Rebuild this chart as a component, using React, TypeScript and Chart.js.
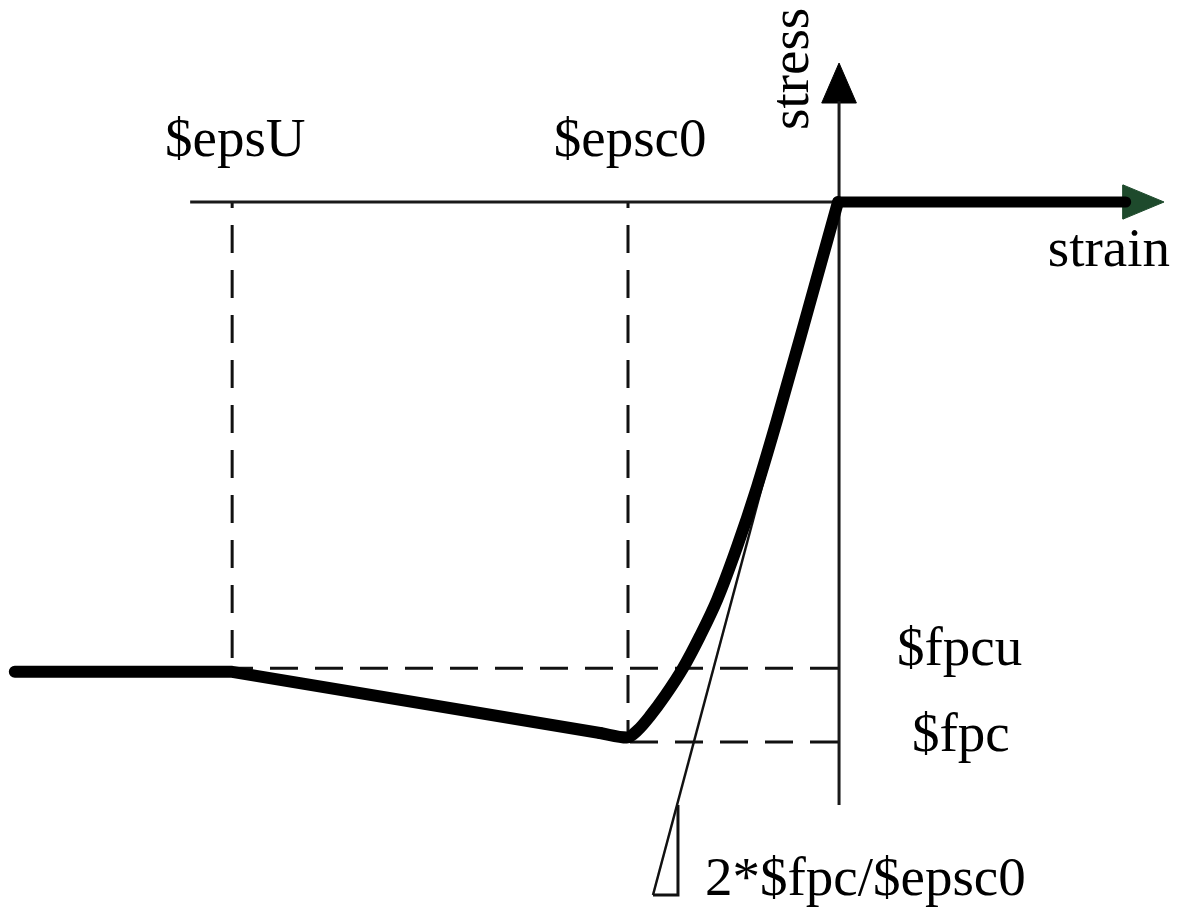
import React, { useEffect, useRef } from "react";
import { Chart, registerables } from "chart.js";

Chart.register(...registerables);

// Units: strain in 1e-3 (‰), stress in MPa (compression negative)
const epsU = -5.77;
const epsc0 = -2.0;
const fpcu = -25.9;
const fpc = -30.0;

// thick stress-strain curve
const curveLinear = [
  { x: -7.84, y: -26.1 },
  { x: epsU, y: -26.1 },
  { x: -2.267, y: -29.5 },
];
const curveRising = [
  { x: -2.267, y: -29.5 },
  { x: -2.01, y: -29.75 },
  { x: -1.905, y: -29.33 },
  { x: -1.79, y: -28.56 },
  { x: -1.648, y: -27.44 },
  { x: -1.476, y: -25.89 },
  { x: -1.314, y: -24.11 },
  { x: -1.152, y: -22.11 },
  { x: -0.962, y: -19.17 },
  { x: -0.771, y: -15.83 },
  { x: -0.581, y: -12.11 },
  { x: -0.286, y: -6.0 },
  { x: 0, y: 0 },
];
const curveTension = [
  { x: 0, y: 0 },
  { x: 2.74, y: 0 },
];

// axes
const strainAxis = [
  { x: -6.17, y: 0 },
  { x: 2.75, y: 0 },
];
const stressAxis = [
  { x: 0.01, y: -33.5 },
  { x: 0.01, y: 5.6 },
];
const strainArrow = [
  { x: 3.105, y: 0 },
  { x: 2.714, y: 0.95 },
  { x: 2.714, y: -0.95 },
  { x: 3.105, y: 0 },
];
const stressArrow = [
  { x: 0.01, y: 7.72 },
  { x: -0.155, y: 5.5 },
  { x: 0.175, y: 5.5 },
  { x: 0.01, y: 7.72 },
];

// initial tangent and slope triangle
const tangentLine = [
  { x: 0, y: 0 },
  { x: -1.762, y: -38.5 },
];
const slopeTriangle = [
  { x: -1.524, y: -33.5 },
  { x: -1.524, y: -38.5 },
  { x: -1.762, y: -38.5 },
];

// dashed reference lines
const dashEpsU = [
  { x: epsU, y: 0 },
  { x: epsU, y: fpcu },
];
const dashEpsc0 = [
  { x: epsc0, y: 0 },
  { x: epsc0, y: fpc },
];
const dashFpcu = [
  { x: 0, y: fpcu },
  { x: epsU, y: fpcu },
];
const dashFpc = [
  { x: 0, y: fpc },
  { x: epsc0, y: fpc },
];

// text labels (anchor in data units)
const labelTexts = ["$epsU", "$epsc0", "stress", "strain", "$fpcu", "$fpc", "2*$fpc/$epsc0"];
const labelX = [-5.74, -1.98, -0.286, 3.162, 0.562, 0.705, -1.267];
const labelY = [2.556, 2.556, 4.0, -3.55, -25.72, -30.5, -38.5];
const labelAlign: CanvasTextAlign[] = ["center", "center", "left", "right", "left", "left", "left"];
const labelRotate = [0, 0, -90, 0, 0, 0, 0];

const X_MIN = -838 / 105;
const X_MAX = 343 / 105;
const Y_MIN = -718 / 18;
const Y_MAX = 202 / 18;

function line(data: { x: number; y: number }[], width: number, color: string, extra: any = {}) {
  return {
    data,
    showLine: true,
    borderColor: color,
    backgroundColor: color,
    borderWidth: width,
    pointRadius: 0,
    pointHoverRadius: 0,
    fill: false,
    tension: 0,
    borderCapStyle: "butt",
    borderJoinStyle: "miter",
    ...extra,
  };
}

const labelPlugin = {
  id: "labels",
  afterDatasetsDraw(chart: any) {
    const ctx = chart.ctx as CanvasRenderingContext2D;
    const xs = chart.scales.x;
    const ys = chart.scales.y;
    ctx.save();
    ctx.fillStyle = "#000";
    ctx.font = '55px "Liberation Serif", "Times New Roman", serif';
    ctx.textBaseline = "alphabetic";
    labelTexts.forEach((t, i) => {
      const px = xs.getPixelForValue(labelX[i]);
      const py = ys.getPixelForValue(labelY[i]);
      ctx.save();
      ctx.translate(px, py);
      ctx.rotate((labelRotate[i] * Math.PI) / 180);
      ctx.textAlign = labelAlign[i];
      ctx.fillText(t, 0, 0);
      ctx.restore();
    });
    ctx.restore();
  },
};

export default function App() {
  const ref = useRef<HTMLCanvasElement>(null);
  useEffect(() => {
    const dash = [28, 17];
    const chart = new Chart(ref.current!, {
      type: "scatter",
      data: {
        datasets: [
          line(curveLinear, 12, "#000", { borderCapStyle: "round", borderJoinStyle: "round" }),
          line(curveRising, 12, "#000", { cubicInterpolationMode: "monotone", borderCapStyle: "round", borderJoinStyle: "round" }),
          line(curveTension, 11, "#000", { borderCapStyle: "round" }),
          line(strainAxis, 3, "#1a1a1a"),
          line(stressAxis, 3, "#1a1a1a"),
          line(strainArrow, 1, "#1e4a2c", { fill: "shape" }),
          line(stressArrow, 1, "#000", { fill: "shape" }),
          line(tangentLine, 2.5, "#111"),
          line(slopeTriangle, 3, "#111"),
          line(dashEpsU, 3, "#111", { borderDash: dash, borderDashOffset: 22 }),
          line(dashEpsc0, 3, "#111", { borderDash: dash, borderDashOffset: 22 }),
          line(dashFpcu, 3, "#111", { borderDash: dash }),
          line(dashFpc, 3, "#111", { borderDash: dash }),
        ] as any,
      },
      options: {
        responsive: false,
        animation: false,
        devicePixelRatio: 1,
        layout: { padding: 0 },
        plugins: { legend: { display: false }, tooltip: { enabled: false } },
        events: [],
        scales: {
          x: { type: "linear", display: false, min: X_MIN, max: X_MAX },
          y: { type: "linear", display: false, min: Y_MIN, max: Y_MAX },
        },
      },
      plugins: [labelPlugin],
    });
    return () => chart.destroy();
  }, []);
  return (
    <div style={{ position: "fixed", left: 0, top: 0, width: 1181, height: 920, background: "#fff" }}>
      <canvas ref={ref} width={1181} height={920} style={{ display: "block", width: 1181, height: 920 }} />
    </div>
  );
}
